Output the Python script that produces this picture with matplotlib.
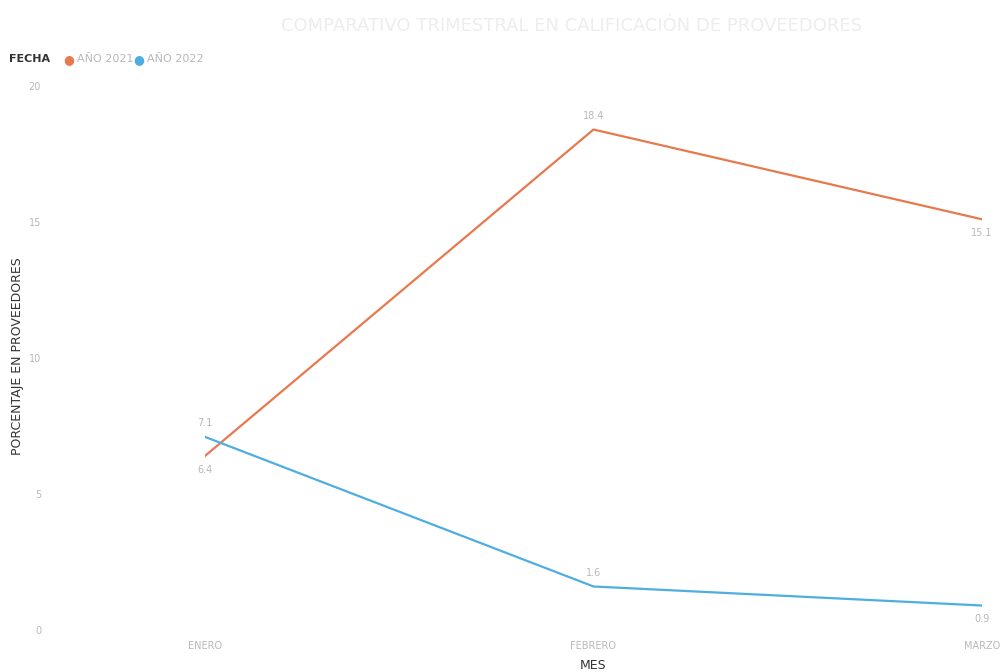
import matplotlib.pyplot as plt

meses = ["ENERO", "FEBRERO", "MARZO"]
anio_2021 = [6.4, 18.4, 15.1]
anio_2022 = [7.1, 1.6, 0.9]
y_ticks = [0, 5, 10, 15, 20]

naranja = "#E8784E"
azul = "#4FAEE0"
gris = "#B8B8B8"

fig = plt.figure(figsize=(10.02, 6.72), dpi=100)
ax = fig.add_axes([0.2046, 0.0625, 0.7754, 0.8095])

x = list(range(len(meses)))
ax.plot(x, anio_2021, color=naranja, lw=1.6)
ax.plot(x, anio_2022, color=azul, lw=1.6)

# etiquetas de datos
pos_2021 = [-1, 1, -1]
pos_2022 = [1, 1, -1]
for xi, v, p in zip(x, anio_2021, pos_2021):
    ax.annotate(f"{v}", (xi, v), xytext=(0, 10 * p), textcoords="offset points",
                ha="center", va="center", fontsize=7, color=gris)
for xi, v, p in zip(x, anio_2022, pos_2022):
    ax.annotate(f"{v}", (xi, v), xytext=(0, 10 * p), textcoords="offset points",
                ha="center", va="center", fontsize=7, color=gris)

ax.set_xlim(0, 2)
ax.set_ylim(0, 20)
ax.set_xticks(x)
ax.set_xticklabels(meses)
ax.set_yticks(y_ticks)
ax.tick_params(axis="x", length=0, pad=8, labelsize=7, labelcolor=gris)
ax.tick_params(axis="y", length=0, pad=118, labelsize=7, labelcolor=gris)
for s in ax.spines.values():
    s.set_visible(False)

ax.set_xlabel("MES", fontsize=9, color="#333333", labelpad=6)
fig.text(0.017, 0.47, "PORCENTAJE EN PROVEEDORES", rotation=90, fontsize=9,
         color="#333333", ha="center", va="center")

fig.text(0.57, 0.962, "COMPARATIVO TRIMESTRAL EN CALIFICACIÓN DE PROVEEDORES",
         fontsize=13, color="#EDEDED", ha="center", va="center")

# leyenda
fig.text(0.009, 0.912, "FECHA", fontsize=8, fontweight="bold", color="#333333", va="center")
fig.text(0.063, 0.912, "●", fontsize=9, color=naranja, va="center")
fig.text(0.077, 0.912, "AÑO 2021", fontsize=8, color=gris, va="center")
fig.text(0.133, 0.912, "●", fontsize=9, color=azul, va="center")
fig.text(0.147, 0.912, "AÑO 2022", fontsize=8, color=gris, va="center")

fig.savefig("out.png", dpi=100)
